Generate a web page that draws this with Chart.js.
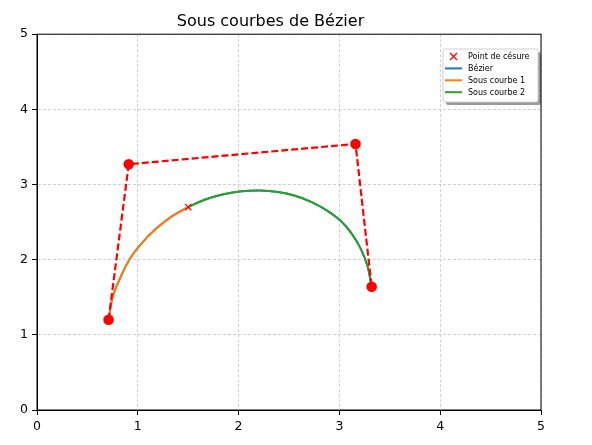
<!DOCTYPE html>
<html>
<head>
<meta charset="utf-8">
<script src="https://cdn.jsdelivr.net/npm/chart.js@4"></script>
<style>
  body { margin: 0; background: #fff; }
  #chart { display: block; }
</style>
</head>
<body>
<canvas id="chart" width="592" height="445"></canvas>
<script>
// Control polygon of the Bezier curve
const ctrlX = [0.71, 0.91, 3.16, 3.32];
const ctrlY = [1.20, 3.27, 3.54, 1.64];

// Split point
const splitX = [1.50];
const splitY = [2.70];

// Points (split point is entry 7)
const curveX = [0.71, 0.75, 0.83, 0.92, 1.04, 1.18, 1.33, 1.50, 1.67, 1.85, 2.03,
                2.21, 2.39, 2.56, 2.72, 2.87, 3.01, 3.12, 3.21, 3.28, 3.32];
const curveY = [1.20, 1.50, 1.77, 2.01, 2.22, 2.41, 2.57, 2.70, 2.80, 2.87, 2.91,
                2.92, 2.90, 2.85, 2.77, 2.66, 2.52, 2.35, 2.15, 1.91, 1.64];
const splitIndex = 7;

const axisTicks = [0, 1, 2, 3, 4, 5];
const legendLabels = ['Point de césure', 'Bézier', 'Sous courbe 1', 'Sous courbe 2'];

const FONT = 'DejaVu Sans';

function toPoints(xs, ys) {
  return xs.map((x, i) => ({ x: x, y: ys[i] }));
}

const fullCurve = toPoints(curveX, curveY);
const subCurve1 = fullCurve.slice(0, splitIndex + 1);
const subCurve2 = fullCurve.slice(splitIndex);

// Top/right spines
const framePlugin = {
  id: 'frame',
  afterDraw(chart) {
    const { ctx, chartArea: a } = chart;
    ctx.save();
    ctx.strokeStyle = '#000';
    ctx.lineWidth = 1;
    ctx.strokeRect(a.left, a.top, a.right - a.left, a.bottom - a.top);
    ctx.restore();
  }
};

// Matplotlib-like legend with shadow
const legendPlugin = {
  id: 'mplLegend',
  afterDraw(chart) {
    const ctx = chart.ctx;
    const x0 = 443, y0 = 49, w = 95, h = 53;
    ctx.save();
    ctx.fillStyle = 'rgba(0,0,0,0.4)';
    ctx.beginPath();
    ctx.roundRect(x0 + 3, y0 + 3, w, h, 2);
    ctx.fill();
    ctx.fillStyle = '#fff';
    ctx.strokeStyle = '#d0d0d0';
    ctx.lineWidth = 1;
    ctx.beginPath();
    ctx.roundRect(x0, y0, w, h, 2);
    ctx.fill();
    ctx.stroke();

    const colors = ['red', '#1f77b4', '#ff7f0e', '#2ca02c'];
    ctx.font = '8px "' + FONT + '"';
    ctx.textBaseline = 'middle';
    ctx.textAlign = 'left';
    legendLabels.forEach((label, i) => {
      const yy = 56.5 + i * 11.9;
      if (i === 0) {
        ctx.strokeStyle = colors[i];
        ctx.lineWidth = 1.3;
        ctx.beginPath();
        ctx.moveTo(450, yy - 3.5); ctx.lineTo(457, yy + 3.5);
        ctx.moveTo(457, yy - 3.5); ctx.lineTo(450, yy + 3.5);
        ctx.stroke();
      } else {
        ctx.strokeStyle = colors[i];
        ctx.lineWidth = 2;
        ctx.beginPath();
        ctx.moveTo(445, yy); ctx.lineTo(462, yy);
        ctx.stroke();
      }
      ctx.fillStyle = '#000';
      ctx.fillText(label, 468, yy + 0.5);
    });
    ctx.restore();
  }
};

const axisCommon = {
  type: 'linear',
  min: 0,
  max: 5,
  afterBuildTicks(scale) {
    scale.ticks = axisTicks.map(v => ({ value: v }));
  },
  grid: {
    color: '#b0b0b0',
    lineWidth: 0.6,
    tickColor: '#000',
    tickLength: 5,
    tickWidth: 1,
    tickBorderDash: [],
    drawOnChartArea: true
  },
  border: { color: '#000', width: 1, dash: [3, 2] },
  ticks: {
    color: '#000',
    font: { family: FONT, size: 12.5 },
    padding: 4
  }
};

new Chart(document.getElementById('chart'), {
  type: 'scatter',
  data: {
    datasets: [
      {
        label: 'Polygone',
        data: toPoints(ctrlX, ctrlY),
        showLine: true,
        borderColor: 'red',
        backgroundColor: 'red',
        borderWidth: 2.2,
        borderDash: [7, 3],
        pointRadius: 5.3,
        pointBorderWidth: 0,
        tension: 0,
        order: 2
      },
      {
        label: legendLabels[0],
        data: toPoints(splitX, splitY),
        borderColor: 'red',
        backgroundColor: 'red',
        pointStyle: 'crossRot',
        pointRadius: 4.5,
        borderWidth: 1.2,
        order: 1
      },
      {
        label: legendLabels[1],
        data: fullCurve,
        showLine: true,
        borderColor: '#1f77b4',
        borderWidth: 2,
        pointRadius: 0,
        tension: 0.4,
        order: 5
      },
      {
        label: legendLabels[2],
        data: subCurve1,
        showLine: true,
        borderColor: '#ff7f0e',
        borderWidth: 2,
        pointRadius: 0,
        tension: 0.4,
        order: 4
      },
      {
        label: legendLabels[3],
        data: subCurve2,
        showLine: true,
        borderColor: '#2ca02c',
        borderWidth: 2,
        pointRadius: 0,
        tension: 0.4,
        order: 3
      }
    ]
  },
  options: {
    responsive: false,
    animation: false,
    layout: { padding: { left: 0, right: 51, top: 0, bottom: 0 } },
    plugins: {
      legend: { display: false },
      tooltip: { enabled: false },
      title: {
        display: true,
        text: 'Sous courbes de Bézier',
        color: '#000',
        font: { family: FONT, size: 16, weight: 'normal' },
        padding: { top: 12, bottom: 3 }
      }
    },
    scales: {
      x: Object.assign({}, axisCommon, {
        position: 'bottom',
        afterFit(scale) { scale.height = 35; }
      }),
      y: Object.assign({}, axisCommon, {
        position: 'left',
        afterFit(scale) { scale.width = 37; }
      })
    }
  },
  plugins: [framePlugin, legendPlugin]
});
</script>
</body>
</html>
